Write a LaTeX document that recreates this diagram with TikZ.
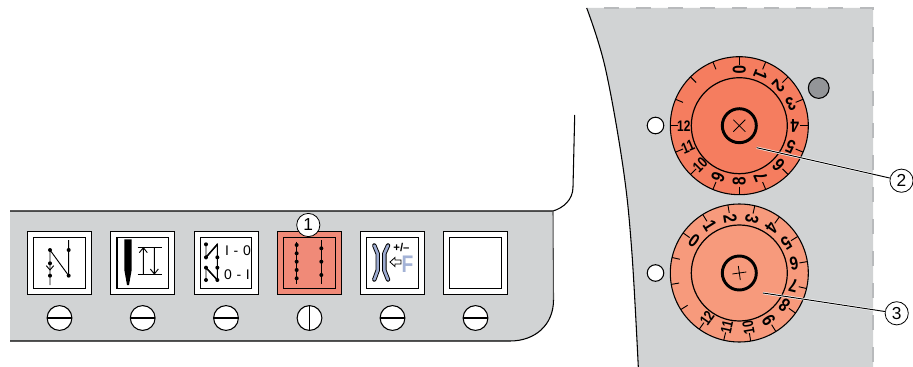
\documentclass[tikz,border=0pt]{standalone}
\usepackage{fontspec}
\usetikzlibrary{calc}
\setmainfont{Liberation Sans}
\newfontfamily\dialfont[FakeStretch=0.82]{Liberation Sans}
\newfontfamily\keyfont[FakeStretch=0.8]{Liberation Sans}
\definecolor{panelgrey}{HTML}{D1D3D4}
\definecolor{dashgrey}{HTML}{B8BABC}
\definecolor{knobgrey}{HTML}{939598}
\definecolor{dialA}{HTML}{F57D5F}
\definecolor{dialB}{HTML}{F79A7C}
\definecolor{keyred}{HTML}{F08A78}
\definecolor{iconblue}{HTML}{9DABD1}
\definecolor{iconF}{HTML}{A3B2D6}
\tikzset{
  keybox/.style={draw=black,line width=.7pt,fill=white,minimum width=48pt,minimum height=47.6pt,inner sep=0pt,outer sep=0pt},
  keyinner/.style={draw=black,line width=.9pt,fill=white,minimum width=38.5pt,minimum height=38pt,inner sep=0pt,outer sep=0pt},
  screw/.style={circle,draw=black,line width=.8pt,fill=white,minimum size=18.6pt,inner sep=0pt,outer sep=0pt},
  callout/.style={circle,draw=black,line width=.6pt,fill=white,minimum size=17.4pt,inner sep=0pt,outer sep=0pt,font=\fontsize{13}{13}\selectfont},
  lamp/.style={circle,draw=black,line width=.8pt,fill=white,minimum size=12.4pt,inner sep=0pt,outer sep=0pt},
  dialouter/.style={circle,draw=black,line width=.8pt,minimum size=103.5pt,inner sep=0pt,outer sep=0pt},
  dialinner/.style={circle,draw=black,line width=.9pt,minimum size=72pt,inner sep=0pt,outer sep=0pt},
  dialknob/.style={circle,draw=black,line width=2.2pt,minimum size=25.5pt,inner sep=0pt,outer sep=0pt},
  paneledge/.style={line width=.8pt,draw=black},
  leader/.style={line width=.7pt,draw=black},
  halo/.style={line width=1.7pt,draw=white},
  thin line/.style={line width=.7pt,draw=black},
  digit/.style={inner sep=0pt,font=\fontsize{14}{14}\dialfont\bfseries},
}
\newcommand{\sdot}[2]{\fill[black] (#1,#2) circle[radius=1.5pt];}
\newcommand{\dialmarks}[3]{% cx, cy, offset of digit 0
  \foreach \k in {0,...,15}{
    \pgfmathsetmacro{\ang}{#3+22.5-22.5*\k}
    \pgfmathsetmacro{\xa}{#1+61*cos(\ang)}
    \pgfmathsetmacro{\ya}{#2-61*sin(\ang)}
    \pgfmathsetmacro{\xb}{#1+69*cos(\ang)}
    \pgfmathsetmacro{\yb}{#2-69*sin(\ang)}
    \draw[line width=.7pt] (\xa,\ya) -- (\xb,\yb);
  }
  \foreach \n in {0,...,12}{
    \pgfmathsetmacro{\ang}{#3-22.5*\n}
    \pgfmathsetmacro{\xa}{#1+55.5*cos(\ang)}
    \pgfmathsetmacro{\ya}{#2-55.5*sin(\ang)}
    \pgfmathsetmacro{\rot}{\ang-180}
    \node[digit,rotate=\rot] (d#3n\n) at (\xa,\ya) {\ifnum\n>9 \scalebox{.78}[.82]{\n}\else\n\fi};
  }
}
\begin{document}
\begin{tikzpicture}[x=.75pt,y=-.75pt]
\useasboundingbox (0,0) rectangle (913,367);
\fill[white] (0,0) rectangle (913,367);

% right panel
\fill[panelgrey] plot[smooth,tension=.6] coordinates {(586.7,8) (605,66.7) (623,167) (631.7,250) (638.3,367)} -- (873,367) -- (873,8) -- cycle;
\draw[paneledge] plot[smooth,tension=.6] coordinates {(586.7,8) (605,66.7) (623,167) (631.7,250) (638.3,367)};
\draw[dashgrey,line width=.8pt,dash pattern=on 11pt off 13pt] (604,8) -- (873,8) -- (873,367);

% left panel
\fill[panelgrey] (10,211) -- (553,211) -- (553.5,300) .. controls (553.5,325) and (535,341) .. (510,341) -- (10,341) -- cycle;
\draw[paneledge] (10,211) -- (553,211) .. controls (563,208) and (573,200) .. (573,187) -- (574.7,115);
\draw[line width=.8pt,draw=black!70] (553,211) -- (553.5,300);
\draw[paneledge] (553.5,300) .. controls (553.5,325) and (535,341) .. (510,341) -- (10,341);

% keys
\node[keybox] (k1) at (59.5,263) {};
\node[keybox] (k2) at (142.7,263) {};
\node[keybox] (k3) at (226,263) {};
\node[keybox,fill=keyred] (k4) at (309.5,263) {};
\node[keybox] (k5) at (392.5,263) {};
\node[keybox] (k6) at (475.5,263) {};
\node[keyinner] (i1) at (k1) {};
\node[keyinner] (i2) at (k2) {};
\node[keyinner] (i3) at (k3) {};
\node[keyinner,fill=keyred] (i4) at (k4) {};
\node[keyinner] (i5) at (k5) {};
\node[keyinner] (i6) at (k6) {};

% screws
\foreach \i/\xx in {1/59.5,2/142.7,3/226,5/392.5,6/475.5}{
  \node[screw] (s\i) at (\xx,318) {};
  \draw[line width=.8pt] (s\i.west) -- (s\i.east);
}
\node[screw] (s4) at (309.5,318) {};
\draw[line width=.8pt] (s4.north) -- (s4.south);

% icons in the first three keys: coordinates of a 3x view
\begin{scope}[shift={(0,200)},x=.25pt,y=-.25pt]
  \draw[thin line] (150,150) -- (150,255) (150,150) -- (206,227) -- (206,120);
  \draw[thin line] (139,197) -- (150,210) -- (161,197);
  \sdot{150}{150}\sdot{150}{190}\sdot{150}{227}\sdot{206}{150}\sdot{206}{227}
  % needle
  \fill[black] (373,118) -- (395,118) -- (395,210) -- (387,255) -- (381,255) -- (373,210) -- cycle;
  \draw[thin line] (413,143) -- (485,143) (413,222) -- (485,222);
  \draw[thin line] (430,222) -- (430,143) (418,158) -- (430,143) -- (442,158);
  \draw[thin line] (463,143) -- (463,222) (451,207) -- (463,222) -- (475,207);
  % stitch pair
  \draw[thin line] (618,130) -- (618,178) (618,172) -- (652,133) (652,130) -- (652,240);
  \draw[thin line] (618,203) -- (618,245) (618,203) -- (652,240);
  \draw[line width=1.1pt] (618,172) -- (652,133) (618,203) -- (652,240);
  \sdot{618}{133}\sdot{618}{172}\sdot{652}{172}\sdot{618}{203}\sdot{652}{203}\sdot{618}{240}\sdot{652}{240}
\end{scope}
\node[inner sep=0pt,font=\fontsize{10.5}{10.5}\selectfont] (t10) at (238,250.3) {I\,\,-\,\,0};
\node[inner sep=0pt,font=\fontsize{10.5}{10.5}\selectfont] (t01) at (237,274.7) {0\,\,-\,\,I};

% stitch lines in the red key
\begin{scope}[shift={(270,200)},x=.25pt,y=-.25pt]
  \draw[thin line] (80,125) -- (80,252) (154,120) -- (154,252);
  \foreach \yy in {135,160,185,210,235}{\sdot{80}{\yy}}
  \foreach \yy in {145,185,225}{\sdot{154}{\yy}}
\end{scope}

% presser-foot key
\draw[line width=3.3pt,line join=round,line cap=round] (374.3,245.5) -- (377.7,253.7) -- (377.7,270.3) -- (374.3,279.5);
\draw[line width=3.3pt,line join=round,line cap=round] (388,245.5) -- (384.3,253.7) -- (384.3,270.3) -- (388,279.5);
\draw[iconblue,line width=1.9pt,line join=round,line cap=round] (374.3,245.5) -- (377.7,253.7) -- (377.7,270.3) -- (374.3,279.5);
\draw[iconblue,line width=1.9pt,line join=round,line cap=round] (388,245.5) -- (384.3,253.7) -- (384.3,270.3) -- (388,279.5);
\node[inner sep=0pt,font=\fontsize{8.5}{8.5}\bfseries\selectfont] (pm) at (401.5,248) {+/–};
\node[inner sep=0pt,text=iconF,font=\fontsize{18}{18}\keyfont\bfseries] (ff) at (407.5,264.5) {F};
\draw[line width=.6pt,fill=white,line join=miter] (390,262) -- (395,257.5) -- (395,260) -- (401,260) -- (401,264) -- (395,264) -- (395,266.5) -- cycle;

% dials
\node[dialouter,fill=dialA] (dialone) at (739.3,125.7) {};
\node[dialinner] (dialonein) at (dialone) {};
\dialmarks{739.3}{125.7}{90}
\node[dialknob] (knobone) at (dialone) {};
\draw[line width=.6pt] ($(knobone)+(-6,-6)$) -- ($(knobone)+(6,6)$) ($(knobone)+(-6,6)$) -- ($(knobone)+(6,-6)$);

\node[dialouter,fill=dialB] (dialtwo) at (739.3,273) {};
\node[dialinner] (dialtwoin) at (dialtwo) {};
\dialmarks{739.3}{273}{144.5}
\node[dialknob] (knobtwo) at (dialtwo) {};
\draw[line width=.6pt] ($(knobtwo)+(-7,1)$) -- ($(knobtwo)+(7,-1)$) ($(knobtwo)+(-1,-7)$) -- ($(knobtwo)+(1,7)$);

% lamps
\node[lamp] (lone) at (655.5,125.5) {};
\node[lamp] (ltwo) at (655.5,273) {};
\node[lamp,fill=knobgrey,minimum size=15.6pt] (lgrey) at (818.7,88) {};

% callouts and leaders
\node[callout] (c1) at (308.3,225) {1};
\node[callout] (c2) at (901.5,180.7) {2};
\node[callout] (c3) at (896.7,313.3) {3};
\coordinate (e2) at (756.7,147.7);
\coordinate (e3) at (763,293);
\path[halo] (e2) -- (c2);
\path[halo] (e3) -- (c3);
\draw[leader] (e2) -- (c2);
\draw[leader] (e3) -- (c3);
\end{tikzpicture}
\end{document}
